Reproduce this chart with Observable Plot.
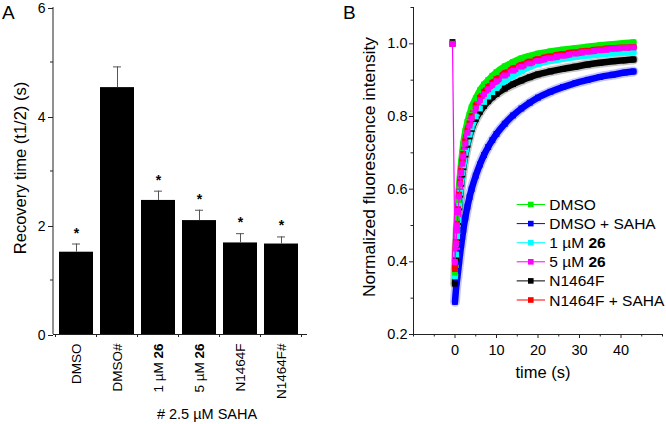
<!DOCTYPE html>
<html><head><meta charset="utf-8">
<script src="https://cdn.jsdelivr.net/npm/d3@7"></script>
<script src="https://cdn.jsdelivr.net/npm/@observablehq/plot@0.6"></script>
<style>
html,body{margin:0;padding:0;background:#fff;}
#wrap{display:flex;width:666px;height:424px;overflow:hidden;}
#wrap svg{display:block;flex:none;}
</style></head><body><div id="wrap"></div>
<script>
// ---------- Panel A data ----------
const categories = ["DMSO", "DMSO#", "1 µM 26", "5 µM 26", "N1464F", "N1464F#"];
const recoveryTime = [1.51, 4.53, 2.46, 2.09, 1.68, 1.66];
const recoveryErr = [0.15, 0.38, 0.17, 0.19, 0.17, 0.13];
const significant = [true, false, true, true, true, true];
const yTicksA = [0, 2, 4, 6];
const yMinorA = [1, 3, 5];
const yLabelA = "Recovery time (t1/2) (s)";
const footnoteA = "# 2.5 µM SAHA";

// ---------- Panel B data ----------
const seriesNames = ["DMSO", "DMSO + SAHA", "1 µM 26", "5 µM 26", "N1464F", "N1464F + SAHA"];
const time = [-0.6, 0, 0.25, 0.5, 0.75, 1, 1.25, 1.5, 1.75, 2, 2.5, 3, 3.5, 4, 5, 6, 7, 8, 9, 10, 12, 14, 16, 18, 20, 23, 26, 29, 32, 35, 38, 41, 43];
const dmso = [1.0, 0.37, 0.45, 0.52, 0.57, 0.61, 0.645, 0.675, 0.70, 0.725, 0.76, 0.785, 0.805, 0.825, 0.85, 0.872, 0.888, 0.90, 0.912, 0.922, 0.938, 0.95, 0.96, 0.967, 0.973, 0.979, 0.984, 0.988, 0.992, 0.996, 0.999, 1.002, 1.004];
const dmsoSaha = [1.0, 0.29, 0.325, 0.35, 0.375, 0.40, 0.425, 0.447, 0.468, 0.488, 0.522, 0.552, 0.578, 0.60, 0.637, 0.668, 0.694, 0.716, 0.735, 0.752, 0.78, 0.803, 0.822, 0.838, 0.852, 0.868, 0.881, 0.892, 0.901, 0.909, 0.915, 0.921, 0.924];
const um1 = [1.0, 0.36, 0.42, 0.47, 0.515, 0.555, 0.59, 0.62, 0.645, 0.665, 0.70, 0.728, 0.75, 0.77, 0.80, 0.822, 0.84, 0.855, 0.867, 0.878, 0.897, 0.912, 0.925, 0.936, 0.945, 0.953, 0.959, 0.964, 0.968, 0.971, 0.974, 0.976, 0.977];
const um5 = [1.0, 0.40, 0.45, 0.50, 0.54, 0.58, 0.615, 0.645, 0.67, 0.69, 0.725, 0.755, 0.775, 0.795, 0.823, 0.845, 0.862, 0.875, 0.887, 0.897, 0.913, 0.926, 0.937, 0.946, 0.953, 0.961, 0.967, 0.973, 0.978, 0.982, 0.986, 0.989, 0.99];
const n1464f = [1.005, 0.34, 0.41, 0.465, 0.51, 0.55, 0.585, 0.615, 0.64, 0.66, 0.695, 0.722, 0.745, 0.765, 0.793, 0.813, 0.829, 0.842, 0.853, 0.862, 0.877, 0.889, 0.899, 0.908, 0.916, 0.924, 0.931, 0.937, 0.943, 0.948, 0.952, 0.955, 0.957];
const n1464fSaha = [1.0, 0.38, 0.455, 0.505, 0.545, 0.585, 0.62, 0.65, 0.676, 0.697, 0.731, 0.761, 0.781, 0.801, 0.829, 0.851, 0.868, 0.881, 0.893, 0.903, 0.919, 0.932, 0.942, 0.951, 0.958, 0.966, 0.972, 0.977, 0.981, 0.985, 0.988, 0.99, 0.991];
const yTicksB = [0.2, 0.4, 0.6, 0.8, 1.0];
const yMinorB = [0.3, 0.5, 0.7, 0.9, 1.1];
const xTicksB = [0, 10, 20, 30, 40];
const xMinorB = [-10, -5, 5, 15, 25, 35, 45, 50];
const yLabelB = "Normalized fluorescence intensity";
const xLabelB = "time (s)";

// ---------- style ----------
const FONT = '"Liberation Sans", Arial, Helvetica, sans-serif';
const seriesColors = ["#00f000", "#0000ff", "#00ffff", "#ff00ff", "#000000", "#ff0000"];
const drawOrder = [1, 4, 2, 0, 5, 3];
const AXIS = "#222";

function richLabel(sel, label) {
  sel.text(null);
  const m = label.match(/^(.*) (26)$/);
  if (m) {
    sel.append("tspan").text(m[1] + " ");
    sel.append("tspan").attr("font-weight", "bold").text(m[2]);
  } else {
    sel.text(label);
  }
}
function addText(svg, x, y, size, str, anchor = "start", rotate = 0) {
  const t = svg.append("text")
    .attr("transform", `translate(${x},${y})` + (rotate ? ` rotate(${rotate})` : ""))
    .attr("text-anchor", anchor).attr("font-size", size).attr("fill", "#000")
    .attr("font-family", FONT);
  richLabel(t, str);
  return t;
}

// ---------- Panel A ----------
const barData = categories.map((c, i) => ({cat: c, value: recoveryTime[i], err: recoveryErr[i], sig: significant[i]}));
const chartA = Plot.plot({
  width: 340, height: 424,
  marginLeft: 53, marginRight: 33, marginTop: 7, marginBottom: 90,
  style: {fontFamily: FONT, fontSize: "14px", color: "#000", background: "#fff"},
  x: {type: "band", domain: categories, range: [54, 303], paddingInner: 0.18, paddingOuter: 0.09},
  y: {domain: [0, 6]},
  marks: [
    Plot.barY(barData, {x: "cat", y: "value", fill: "#000"}),
    Plot.ruleX(barData, {x: "cat", y1: "value", y2: d => d.value + d.err, stroke: "#555", strokeWidth: 1}),
    Plot.tickY(barData, {x: "cat", y: d => d.value + d.err, stroke: "#555", strokeWidth: 1, insetLeft: 13, insetRight: 13}),
    Plot.text(barData.filter(d => d.sig), {x: "cat", y: d => d.value + d.err, text: () => "*", dy: -11, fontSize: 14, fontWeight: "bold", fill: "#000"}),
    Plot.axisY({ticks: yTicksA, tickFormat: d => String(d), tickSize: 5, tickPadding: 3, fontSize: 14, dy: 1, label: null, stroke: AXIS}),
    Plot.axisY({ticks: yMinorA, tickSize: 3, tickFormat: () => "", label: null, stroke: AXIS}),
    Plot.axisX({tickSize: 0, tickPadding: 9, tickRotate: -90, fontSize: 13.5, label: null}),
    Plot.ruleY([0], {stroke: AXIS})
  ]
});
{
  const svg = d3.select(chartA);
  const xs = chartA.scale("x");
  const gap = (xs.step - xs.bandwidth) / 2;
  const bounds = categories.map(c => xs.apply(c) - gap);
  bounds.push(xs.apply(categories[categories.length - 1]) + xs.bandwidth + gap);
  const yBase = 424 - 90;
  svg.append("g").selectAll("line").data(bounds).join("line")
    .attr("x1", d => d).attr("x2", d => d).attr("y1", yBase).attr("y2", yBase + 3)
    .attr("stroke", AXIS);
  svg.append("line").attr("x1", 53).attr("x2", 53).attr("y1", 7).attr("y2", yBase).attr("stroke", AXIS);
  svg.selectAll('g[aria-label="x-axis tick label"] text').each(function(d, i) {
    richLabel(d3.select(this), categories[i]);
  });
  addText(svg, 2, 19, 19, "A");
  addText(svg, 26, 168, 16.5, yLabelA, "middle", -90);
  addText(svg, 207, 419, 14.5, footnoteA, "middle");
}

// ---------- Panel B ----------
const seriesValues = [dmso, dmsoSaha, um1, um5, n1464f, n1464fSaha];
const rows = drawOrder.flatMap(k => time.map((t, j) => ({series: seriesNames[k], t, v: seriesValues[k][j]})));
const post = rows.filter(d => d.t >= 0);
const halo = post.filter(d => d.series === "DMSO + SAHA" || d.series === "N1464F");
const topSeries = seriesNames[drawOrder[drawOrder.length - 1]];
const topRows = rows.filter(d => d.series === topSeries);
const chartB = Plot.plot({
  width: 326, height: 424,
  marginLeft: 73, marginRight: 4, marginTop: 7, marginBottom: 90,
  style: {fontFamily: FONT, fontSize: "14px", color: "#000", background: "#fff"},
  x: {domain: [-10, 50]},
  y: {domain: [0.2, 1.1]},
  color: {domain: seriesNames, range: seriesColors},
  marks: [
    Plot.axisY({ticks: yTicksB, tickFormat: ".1f", tickSize: 4, tickPadding: 2, fontSize: 14.5, label: null, stroke: AXIS}),
    Plot.axisY({ticks: yMinorB, tickSize: 2.5, tickFormat: () => "", label: null, stroke: AXIS}),
    Plot.axisX({ticks: xTicksB, tickFormat: d => String(d), tickSize: 4, tickPadding: 6, fontSize: 14.5, label: null, stroke: AXIS}),
    Plot.axisX({ticks: xMinorB, tickSize: 2.5, tickFormat: () => "", label: null, stroke: AXIS}),
    Plot.ruleX([-10], {stroke: AXIS}),
    Plot.ruleY([0.2], {stroke: AXIS}),
    Plot.line(halo, {x: "t", y: "v", z: "series", stroke: "series", strokeWidth: 10, strokeOpacity: 0.22, curve: "monotone-x"}),
    Plot.line(post, {x: "t", y: "v", z: "series", stroke: "series", strokeWidth: 6.5, curve: "monotone-x", strokeLinejoin: "round"}),
    Plot.dot(rows, {x: "t", y: "v", fill: "series", symbol: "square", r: 3.3}),
    Plot.line(topRows, {x: "t", y: "v", stroke: "series", strokeWidth: 1.2})
  ]
});
{
  const svg = d3.select(chartB);
  addText(svg, 3, 19, 19, "B");
  addText(svg, 34.5, 167, 17.4, yLabelB, "middle", -90);
  addText(svg, 203, 378, 16.5, xLabelB, "middle");
  const lg = svg.append("g");
  seriesNames.forEach((name, i) => {
    const base = 210 + i * 19.1;
    const cy = base - 5.5;
    lg.append("line").attr("x1", 176.7).attr("x2", 205).attr("y1", cy).attr("y2", cy)
      .attr("stroke", seriesColors[i]).attr("stroke-width", 1);
    lg.append("rect").attr("x", 190.8 - 2.8).attr("y", cy - 2.8).attr("width", 5.6).attr("height", 5.6)
      .attr("fill", seriesColors[i]);
    addText(lg, 209.3, base, 15.5, name);
  });
}

document.getElementById("wrap").append(chartA, chartB);
</script>
</body></html>
